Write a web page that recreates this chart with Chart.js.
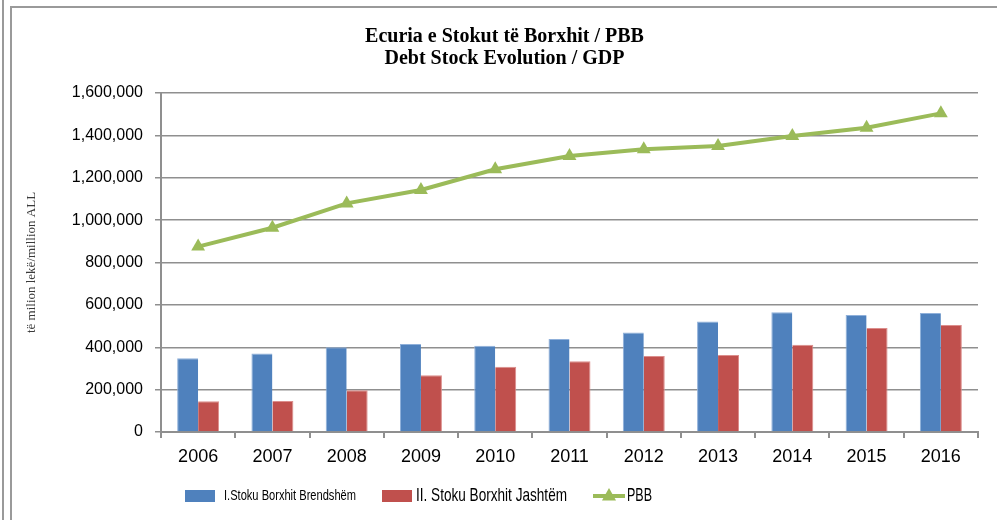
<!DOCTYPE html>
<html><head><meta charset="utf-8">
<script src="https://cdn.jsdelivr.net/npm/chart.js@4.4.1/dist/chart.umd.min.js"></script>
<style>
html,body{margin:0;padding:0;background:#fff;}
#wrap{position:relative;width:997px;height:520px;overflow:hidden;}
#f1{position:absolute;left:2px;top:0;width:0;height:520px;border-left:2px solid #9a9a9a;}
#f2{position:absolute;left:10px;top:6px;width:990px;height:520px;border-left:2px solid #9a9a9a;border-top:2px solid #9a9a9a;}
canvas{position:absolute;left:0;top:0;}
</style></head><body>
<div id="wrap"><div id="f1"></div><div id="f2"></div><canvas id="c" width="997" height="520"></canvas></div>
<script>
const years = ['2006','2007','2008','2009','2010','2011','2012','2013','2014','2015','2016'];
const domesticDebt = [348000, 370000, 400000, 415000, 407000, 439000, 470000, 521000, 565000, 552000, 562000];
const externalDebt = [145000, 146000, 197000, 268000, 308000, 334000, 359000, 363000, 412000, 491000, 505000];
const gdp = [875000, 964000, 1079000, 1142000, 1240000, 1303000, 1334000, 1350000, 1397000, 1436000, 1504000];
const yTickValues = [0, 200000, 400000, 600000, 800000, 1000000, 1200000, 1400000, 1600000];
const titleLines = ['Ecuria e Stokut të Borxhit / PBB', 'Debt Stock Evolution / GDP'];
const yAxisTitle = 'të milion lekë/million ALL';
const seriesNames = ['I.Stoku Borxhit Brendshëm', 'II. Stoku Borxhit Jashtëm', 'PBB'];

const BLUE = '#4F81BD', RED = '#C0504D', GREEN = '#9BBB59';
const GRID = '#8f8f8f';

const legendPlugin = {
  id: 'customLegend',
  afterDraw(chart) {
    const ctx = chart.ctx;
    ctx.save();
    const cy = 496;
    ctx.textBaseline = 'middle';
    ctx.textAlign = 'left';
    // item 1
    ctx.fillStyle = BLUE;
    ctx.fillRect(185, 490, 30, 12);
    ctx.fillStyle = '#000';
    ctx.font = '15px "Liberation Sans", sans-serif';
    ctx.fillText(seriesNames[0], 224, cy, 132);
    // item 2
    ctx.fillStyle = RED;
    ctx.fillRect(382, 490, 30, 12);
    ctx.fillStyle = '#000';
    ctx.font = '19px "Liberation Sans", sans-serif';
    ctx.fillText(seriesNames[1], 416, cy, 151);
    // item 3
    ctx.strokeStyle = GREEN;
    ctx.lineWidth = 4;
    ctx.beginPath(); ctx.moveTo(593, cy); ctx.lineTo(625, cy); ctx.stroke();
    ctx.fillStyle = GREEN;
    ctx.beginPath(); ctx.moveTo(609, cy - 8); ctx.lineTo(616, cy + 4.5); ctx.lineTo(602, cy + 4.5); ctx.closePath(); ctx.fill();
    ctx.fillStyle = '#000';
    ctx.fillText(seriesNames[2], 627, cy, 25);
    ctx.restore();
  }
};

new Chart(document.getElementById('c'), {
  type: 'bar',
  data: {
    labels: years,
    datasets: [
      { type: 'line', label: seriesNames[2], data: gdp, borderColor: GREEN, backgroundColor: GREEN,
        borderWidth: 4, pointStyle: 'triangle', pointRadius: 8, pointBorderWidth: 0,
        pointBackgroundColor: GREEN, tension: 0, order: 0 },
      { label: seriesNames[0], data: domesticDebt, backgroundColor: BLUE, borderColor: '#8fb0da',
        borderWidth: {top: 1, left: 1, right: 0, bottom: 0}, categoryPercentage: 0.565, barPercentage: 1.0, order: 1 },
      { label: seriesNames[1], data: externalDebt, backgroundColor: RED, borderColor: '#dc8e8c',
        borderWidth: {top: 1, left: 0, right: 1, bottom: 0}, categoryPercentage: 0.565, barPercentage: 1.0, order: 1 }
    ]
  },
  options: {
    responsive: false,
    devicePixelRatio: 1,
    animation: false,
    layout: { padding: { left: 12, right: 0, top: 0, bottom: 0 } },
    plugins: {
      legend: { display: false },
      tooltip: { enabled: false },
      title: {
        display: true, text: titleLines, color: '#000',
        font: { family: '"Liberation Serif", serif', size: 20, weight: 'bold', lineHeight: 1.1 },
        padding: { top: 26, bottom: 23 }
      }
    },
    scales: {
      x: {
        grid: { display: true, drawOnChartArea: false, drawTicks: true, tickLength: 6, color: GRID, lineWidth: 2, offset: true },
        border: { display: true, color: GRID, width: 2 },
        ticks: { color: '#000', font: { family: '"Liberation Sans", sans-serif', size: 18 }, padding: 8 },
        afterFit(s) { s.height = 88; }
      },
      y: {
        min: 0, max: 1600000,
        afterBuildTicks(s) { s.ticks = yTickValues.map(v => ({ value: v })); },
        grid: { color: GRID, lineWidth: 1.5, tickLength: 6 },
        border: { display: true, color: GRID, width: 2 },
        ticks: { color: '#000', font: { family: '"Liberation Sans", sans-serif', size: 16 }, padding: 12,
          callback: v => Number(v).toLocaleString('en-US') },
        title: { display: true, text: yAxisTitle, color: '#3a3a3a',
          font: { family: '"Liberation Serif", serif', size: 13 }, padding: { top: 12, bottom: 0 } },
        afterFit(s) { s.width = 149; }
      },
      yR: {
        position: 'right', display: true,
        grid: { display: false, drawTicks: false }, border: { display: false },
        ticks: { display: false },
        afterFit(s) { s.width = 19; }
      }
    }
  },
  plugins: [legendPlugin]
});
</script>
</body></html>
